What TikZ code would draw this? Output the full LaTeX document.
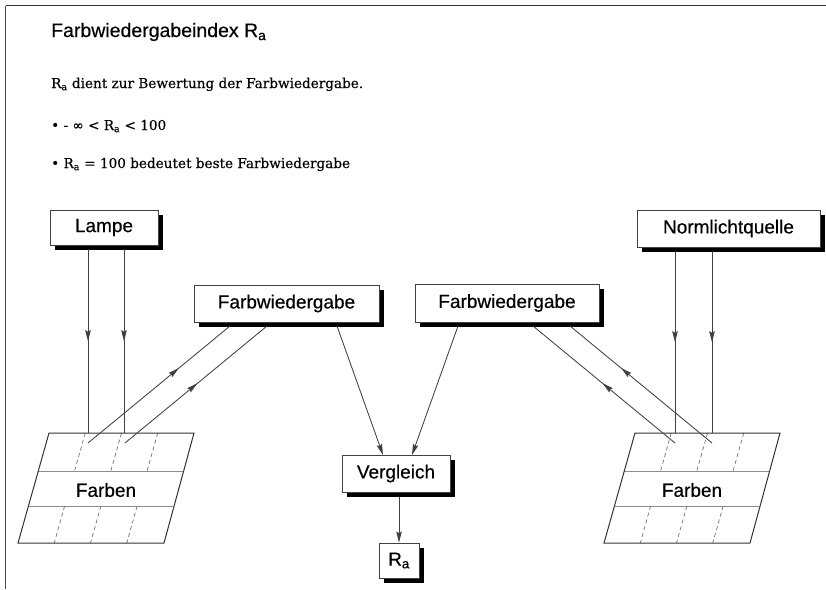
\documentclass[tikz,border=0pt]{standalone}
\usepackage{fontspec}
\setmainfont{Liberation Sans}[FakeBold=0.4]
\newfontfamily\bodyserif{DejaVu Serif}[FakeBold=0.3]
\usetikzlibrary{arrows.meta,calc,shadows,decorations.markings}

\begin{document}
\begin{tikzpicture}[x=1pt,y=-1pt,
  lbl/.style={font=\fontsize{19}{22}\selectfont},
  box/.style={draw=black!75, line width=0.8pt, fill=white, inner sep=0pt, lbl,
    drop shadow={shadow xshift=4.5pt, shadow yshift=-4.5pt, opacity=1, fill=black}},
  flow/.style={draw=black!75, line width=0.85pt},
  tip/.style={-{Stealth[length=11pt,width=5.5pt,inset=1.5pt]}},
  midtip/.style={postaction={decorate}, decoration={markings,
    mark=at position #1 with {\arrow{Stealth[length=11pt,width=5.5pt,inset=1.5pt]}}}},
  midtip/.default=0.5,
  body/.style={anchor=base west, inner sep=0pt, font=\bodyserif\fontsize{13.6}{15}\selectfont},
  farbgrid/.pic={
    % colour chart: 4 x 3 fields on a slanted sheet
    \draw[black!45, line width=0.7pt] (-10.7,38) -- (134.3,38);
    \draw[black!45, line width=0.7pt] (-20.6,73) -- (124.4,73);
    \foreach \k in {1,2,3}{
      \draw[black!55, line width=0.7pt, dash pattern=on 4pt off 3pt]
        ({36.25*\k},0) -- ({36.25*\k-10.7},38);
      \draw[black!55, line width=0.7pt, dash pattern=on 4pt off 3pt]
        ({36.25*\k-20.6},73) -- ({36.25*\k-31},110);
    }
    \draw[black!80, line width=1pt] (0,0) -- (145,0) -- (115,110) -- (-31,110) -- cycle;
    \node[lbl, inner sep=0pt] (-txt) at (57,57) {Farben};
  }
]
\useasboundingbox (0,0) rectangle (826,589);

% page frame (top and left edge)
\draw[black!80, line width=1.4pt] (826,5.5) -- (5.5,5.5);
\draw[black!70, line width=0.9pt] (5.5,5.5) -- (5.5,589);

% heading and notes
\node[anchor=base west, inner sep=0pt, font=\fontsize{19.5}{22}\selectfont] (title) at (51,37)
  {Farbwiedergabeindex R\textsubscript{a}};
\node[body] (n1) at (51,88) {R\textsubscript{a} dient zur Bewertung der Farbwiedergabe.};
\node[body] (n2) at (51,130) {•\ - ∞ < R\textsubscript{a} < 100};
\node[body] (n3) at (51,168) {•\ R\textsubscript{a} = 100 bedeutet beste Farbwiedergabe};

% boxes
\node[box, minimum width=108pt, minimum height=35pt] (lampe) at (104,227.5) {Lampe};
\node[box, minimum width=185pt, minimum height=37pt] (fl) at (286.5,303.5) {Farbwiedergabe};
\node[box, minimum width=184pt, minimum height=38pt] (fr) at (507,303) {Farbwiedergabe};
\node[box, minimum width=183pt, minimum height=37pt] (norm) at (728.5,228.5) {Normlichtquelle};
\node[box, minimum width=108pt, minimum height=37pt] (vgl) at (396,473.5) {Vergleich};
\node[box, minimum width=40pt, minimum height=35pt] (ra) at (399,560.5) {R\textsubscript{a}};

% colour charts
\pic (gl) at (49,433) {farbgrid};
\pic (gr) at (635,433) {farbgrid};

% contact points on the charts and under the Farbwiedergabe boxes
\coordinate (lin1) at (88,433);
\coordinate (lin2) at (124,433);
\coordinate (lout1) at (88,443);
\coordinate (lout2) at (125,443);
\coordinate (fla) at (230,326);
\coordinate (flb) at (267,326);
\coordinate (flc) at (337,326);
\coordinate (rin1) at (675,433);
\coordinate (rin2) at (712,433);
\coordinate (rout1) at (675,443);
\coordinate (rout2) at (712,443);
\coordinate (fra) at (533,326);
\coordinate (frb) at (570,326);
\coordinate (frc) at (458,326);
\coordinate (vgla) at (383,455);
\coordinate (vglb) at (412,455);

% light falling on the charts
\draw[flow, midtip=0.5] (lampe.south -| lin1) ++(0,4) -- (lin1);
\draw[flow, midtip=0.5] (lampe.south -| lin2) ++(0,4) -- (lin2);
\draw[flow, midtip=0.5] (norm.south -| rin1) ++(0,4) -- (rin1);
\draw[flow, midtip=0.5] (norm.south -| rin2) ++(0,4) -- (rin2);

% reflected light
\draw[flow, midtip=0.64] (lout1) -- (fla);
\draw[flow, midtip=0.51] (lout2) -- (flb);
\draw[flow, midtip=0.51] (rout1) -- (fra);
\draw[flow, midtip=0.64] (rout2) -- (frb);

% comparison
\draw[flow, tip] (flc) -- (vgla);
\draw[flow, tip] (frc) -- (vglb);
\draw[flow, tip] (vgl.south -| ra) ++(0,4.5) -- (ra.north);
\end{tikzpicture}
\end{document}
